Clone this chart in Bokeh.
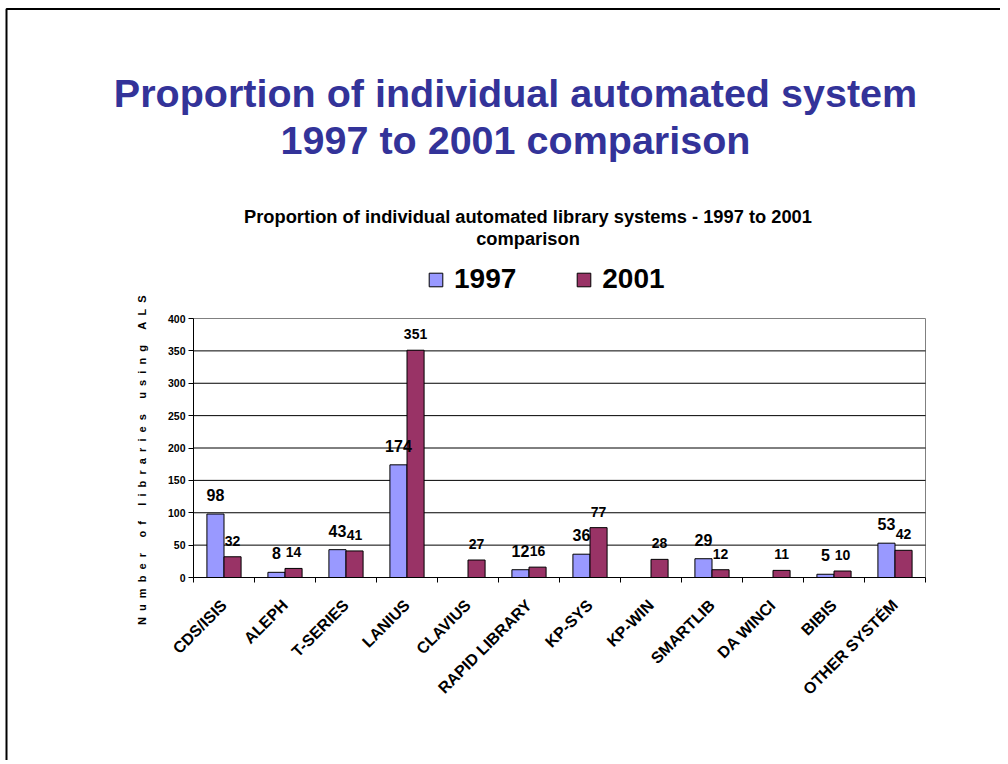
import math
from bokeh.plotting import figure
from bokeh.models import (ColumnDataSource, Range1d, FixedTicker, Label, LabelSet, Legend,
                          LegendItem, BoxAnnotation)
from bokeh.transform import dodge
from bokeh.core.properties import value
from bokeh.embed import file_html
from bokeh.resources import INLINE

# ---------------- data ----------------
categories = ["CDS/ISIS", "ALEPH", "T-SERIES", "LANIUS", "CLAVIUS", "RAPID LIBRARY",
              "KP-SYS", "KP-WIN", "SMARTLIB", "DA WINCI", "BIBIS", "OTHER SYSTÉM"]
values_1997 = [98, 8, 43, 174, None, 12, 36, None, 29, None, 5, 53]
values_2001 = [32, 14, 41, 351, 27, 16, 77, 28, 12, 11, 10, 42]
series_names = ["1997", "2001"]
y_ticks = [0, 50, 100, 150, 200, 250, 300, 350, 400]

main_title_lines = ["Proportion of individual automated system", "1997 to 2001 comparison"]
chart_title_lines = ["Proportion of individual automated library systems - 1997 to 2001",
                     "comparison"]
y_axis_words = ["Number", "of", "libraries", "using", "ALS"]

# ---------------- layout / style ----------------
FONT = "Liberation Sans"
C1997 = "#9999FF"
C2001 = "#993366"
TITLE_BLUE = "#333399"

W, H = 1000, 760                     # canvas size
PL, PR, PT, PB = 193, 925, 318, 577  # plot area edges, canvas px

n = len(categories)
y_lo, y_hi = y_ticks[0], y_ticks[-1]
ux = n / (PR - PL)
uy = (y_hi - y_lo) / (PB - PT)
x_range = Range1d(-0.5 - PL * ux, n - 0.5 + (W - PR) * ux)
y_range = Range1d(y_lo - (H - PB) * uy, y_hi + PT * uy)

def sx(X):  # canvas x (frame covers the whole canvas)
    return X

def sy(Y):  # canvas y from top -> screen y measured from bottom
    return H - Y

p = figure(width=W, height=H, output_backend="svg", toolbar_location=None,
           x_range=x_range, y_range=y_range, min_border=0,
           background_fill_color="white", border_fill_color="white",
           outline_line_color=None)
p.grid.visible = False

# ---------------- sources ----------------
idx = list(range(n))
nan = float("nan")
src = ColumnDataSource(dict(
    idx=idx,
    v1997=[nan if v is None else v for v in values_1997],
    v2001=values_2001,
))
lab1997 = ColumnDataSource(dict(
    idx=[i for i, v in zip(idx, values_1997) if v is not None],
    v=[v for v in values_1997 if v is not None],
    t=[str(v) for v in values_1997 if v is not None],
))
lab2001 = ColumnDataSource(dict(idx=idx, v=values_2001, t=[str(v) for v in values_2001]))
grid_src = ColumnDataSource(dict(
    y=y_ticks[1:-1],
    x0=[-0.5] * (len(y_ticks) - 2),
    x1=[n - 0.5] * (len(y_ticks) - 2),
))

# plot-area border (grey) and horizontal gridlines
p.add_layout(BoxAnnotation(left=-0.5, right=n - 0.5, bottom=y_lo, top=y_hi,
                           fill_alpha=0, line_color="#808080", line_alpha=1, line_width=1,
                           level="underlay"))
p.segment(x0="x0", x1="x1", y0="y", y1="y", source=grid_src, line_color="#000000", line_width=1)

# bars
bw = 0.28
r1 = p.vbar(x=dodge("idx", -bw / 2, range=p.x_range), top="v1997", width=bw, source=src,
            fill_color=C1997, line_color="black", line_width=1)
r2 = p.vbar(x=dodge("idx", bw / 2, range=p.x_range), top="v2001", width=bw, source=src,
            fill_color=C2001, line_color="black", line_width=1)

# value labels
p.add_layout(LabelSet(x=dodge("idx", -bw / 2, range=p.x_range), y="v", text="t", source=lab1997,
                      y_offset=13, text_align="center", text_baseline="alphabetic",
                      text_font=value(FONT), text_font_size=value("16px"),
                      text_font_style="bold", text_color="black"))
p.add_layout(LabelSet(x=dodge("idx", bw / 2, range=p.x_range), y="v", text="t", source=lab2001,
                      y_offset=11, text_align="center", text_baseline="alphabetic",
                      text_font=value(FONT), text_font_size=value("14px"),
                      text_font_style="bold", text_color="black"))

# y axis (drawn at the plot-area left edge)
ya = p.yaxis[0]
ya.fixed_location = -0.5
ya.bounds = (y_lo, y_hi)
ya.ticker = FixedTicker(ticks=y_ticks)
ya.axis_line_color = "black"
ya.major_tick_out = 5
ya.major_tick_in = 0
ya.minor_tick_line_color = None
ya.major_label_standoff = 3
ya.major_label_text_font = FONT
ya.major_label_text_font_size = "10.5px"
ya.major_label_text_font_style = "bold"
ya.major_label_text_color = "black"
ya.axis_label = "\u2007 \u2007".join("\u2007".join(w) for w in y_axis_words) + "\u2007" * 4
ya.axis_label_text_font = FONT
ya.axis_label_text_font_size = "11px"
ya.axis_label_text_font_style = "bold"
ya.axis_label_text_color = "black"
ya.axis_label_standoff = 17

# x axis: labels at category centres, ticks at category boundaries
xa = p.xaxis[0]
xa.fixed_location = y_lo
xa.bounds = (-0.5, n - 0.5)
xa.ticker = FixedTicker(ticks=idx, minor_ticks=[i - 0.5 for i in range(n + 1)])
xa.major_label_overrides = {i: c for i, c in zip(idx, categories)}
xa.major_label_orientation = math.pi / 4
xa.major_tick_line_color = None
xa.major_tick_out = 0
xa.major_tick_in = 0
xa.minor_tick_out = 5
xa.minor_tick_in = 0
xa.minor_tick_line_color = "black"
xa.axis_line_color = "black"
xa.major_label_standoff = 20
xa.major_label_text_font = FONT
xa.major_label_text_font_size = "16px"
xa.major_label_text_font_style = "bold"
xa.major_label_text_color = "black"

# titles
for text, base in zip(main_title_lines, [92.5, 139.5]):
    p.add_layout(Label(x=sx(515), y=sy(base), x_units="screen", y_units="screen", text=text,
                       text_align="center", text_baseline="alphabetic", text_font=FONT,
                       text_font_size="39.5px", text_font_style="bold", text_color=TITLE_BLUE))
for text, base in zip(chart_title_lines, [216, 238]):
    p.add_layout(Label(x=sx(527.5), y=sy(base), x_units="screen", y_units="screen", text=text,
                       text_align="center", text_baseline="alphabetic", text_font=FONT,
                       text_font_size="18.3px", text_font_style="bold", text_color="black"))

# legend
legend = Legend(items=[LegendItem(label=series_names[0], renderers=[r1]),
                       LegendItem(label=series_names[1], renderers=[r2])],
                orientation="horizontal", location=(sx(427), sy(279) - 16),
                glyph_width=17, glyph_height=17, label_standoff=10, spacing=59,
                padding=0, margin=0, border_line_color=None, background_fill_alpha=0,
                label_text_font=FONT, label_text_font_size="28px",
                label_text_font_style="bold", label_text_color="black")
p.add_layout(legend)

# slide border (top and left edges)
p.add_layout(BoxAnnotation(left=6, right=W + 20, top=sy(8.5), bottom=-20,
                           left_units="screen", right_units="screen",
                           top_units="screen", bottom_units="screen",
                           fill_alpha=0, line_color="black", line_alpha=1, line_width=2))

open("out.html", "w").write(file_html(p, INLINE))
